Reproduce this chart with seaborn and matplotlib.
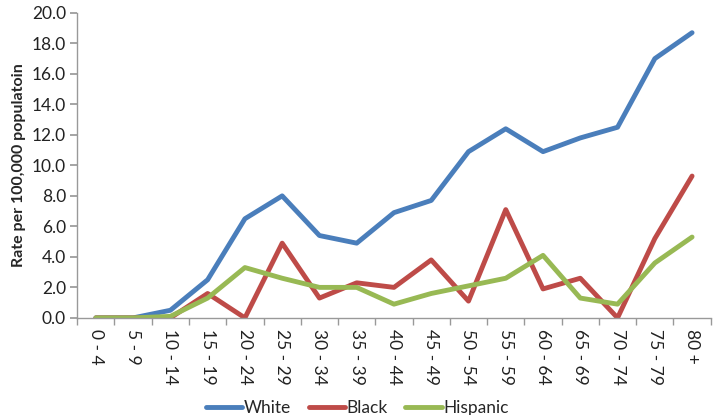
import numpy as np
import pandas as pd
import matplotlib
matplotlib.use("Agg")
import matplotlib.pyplot as plt
import seaborn as sns
from matplotlib.ticker import FixedLocator

age_groups = ["0 - 4", "5 - 9", "10 - 14", "15 - 19", "20 - 24", "25 - 29",
              "30 - 34", "35 - 39", "40 - 44", "45 - 49", "50 - 54", "55 - 59",
              "60 - 64", "65 - 69", "70 - 74", "75 - 79", "80 +"]
white = [0.0, 0.0, 0.5, 2.5, 6.5, 8.0, 5.4, 4.9, 6.9, 7.7, 10.9, 12.4,
         10.9, 11.8, 12.5, 17.0, 18.7]
black = [0.0, 0.0, 0.0, 1.6, 0.0, 4.9, 1.3, 2.3, 2.0, 3.8, 1.1, 7.1,
         1.9, 2.6, 0.0, 5.2, 9.3]
hispanic = [0.0, 0.0, 0.1, 1.3, 3.3, 2.6, 2.0, 2.0, 0.9, 1.6, 2.1, 2.6,
            4.1, 1.3, 0.9, 3.6, 5.3]
series_names = ["White", "Black", "Hispanic"]
colors = ["#4A7EBB", "#BE4B48", "#98B954"]

df = pd.DataFrame({
    "pos": list(range(len(age_groups))) * 3,
    "rate": white + black + hispanic,
    "group": [name for name in series_names for _ in age_groups],
})

sns.set_theme(style="white")
plt.rcParams["font.family"] = ["Lato", "DejaVu Sans"]

fig = plt.figure(figsize=(7.15, 4.15), dpi=100)
ax = fig.add_axes([0.108, 0.234, 0.886, 0.735])

sns.lineplot(data=df, x="pos", y="rate", hue="group", hue_order=series_names,
             palette=colors, linewidth=3.5, sort=False, ax=ax, legend=True)

n = len(age_groups)
yticks = np.arange(0, 20.1, 2.0)
ax.set_xlim(-0.5, n - 0.5)
ax.set_ylim(0, 20)
ax.set_yticks(yticks)
ax.set_yticklabels([f"{v:.1f}" for v in yticks], fontsize=12.5, color="#222222")
ax.set_xticks(range(n))
ax.set_xticklabels(age_groups, rotation=270, fontsize=12.5, color="#222222")
ax.xaxis.set_minor_locator(FixedLocator(np.arange(-0.5, n, 1.0)))
ax.tick_params(axis="x", which="major", length=0, pad=8)
ax.tick_params(axis="x", which="minor", length=5, color="#999999", direction="out", bottom=True)
ax.tick_params(axis="y", length=5, color="#999999", direction="out", left=True, pad=3)
ax.set_xlabel("")
ax.set_ylabel("Rate per 100,000 populatoin", fontsize=11.5, fontweight="bold", labelpad=4)

for side in ["top", "right"]:
    ax.spines[side].set_visible(False)
for side in ["left", "bottom"]:
    ax.spines[side].set_color("#999999")
    ax.spines[side].set_linewidth(1.0)

handles, labels = ax.get_legend_handles_labels()
ax.get_legend().remove()
fig.legend(handles, labels, loc="lower center", bbox_to_anchor=(0.5, -0.04),
           ncol=3, frameon=False, fontsize=12.5, handlelength=2.1,
           handletextpad=0.1, columnspacing=1.0)

fig.savefig("out.png", dpi=100)
